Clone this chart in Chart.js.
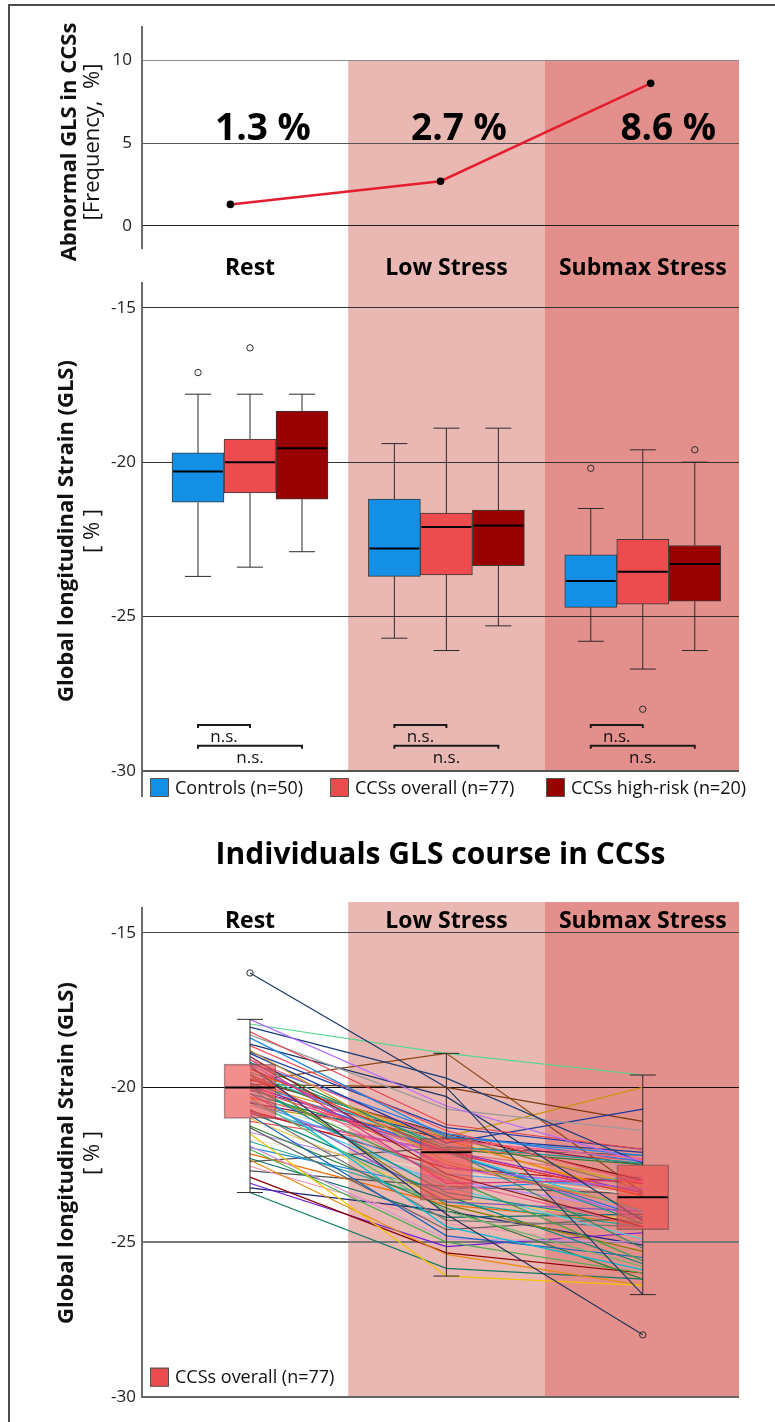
<!DOCTYPE html>
<html>
<head>
<meta charset="utf-8">
<script src="https://cdn.jsdelivr.net/npm/chart.js"></script>
<style>
  body { margin: 0; background: #fff; }
  #page { position: relative; width: 775px; height: 1422px; overflow: hidden; }
  #frame { position: absolute; left: 8px; top: 4px; width: 800px; height: 1460px; border: 2px solid #4d4d4d; }
  canvas { position: absolute; left: 0; }
</style>
</head>
<body>
<div id="page">
  <div id="frame"></div>
  <canvas id="freqChart" width="775" height="280" style="top:0"></canvas>
  <canvas id="boxChart" width="775" height="540" style="top:280px"></canvas>
  <canvas id="courseChart" width="775" height="602" style="top:820px"></canvas>
</div>
<script>
// ---- data ----
const phases = ['Rest', 'Low Stress', 'Submax Stress'];
const phaseX = [0, 1, 2];

// top panel: abnormal GLS frequency in CCSs
const abnormalFreq = [1.3, 2.7, 8.6];
const abnormalX = [-0.1, 0.97, 2.04];
const abnormalLabels = ['1.3 %', '2.7 %', '8.6 %'];
const abnormalLabelX = [0.066, 1.064, 2.13];

// box plots: one row per group, one column per phase
const groupLabels = ['Controls (n=50)', 'CCSs overall (n=77)', 'CCSs high-risk (n=20)'];
const groupColors = ['#1390E6', '#EC4C4E', '#990000'];
const boxMin = [[-23.7, -25.7, -25.8], [-23.4, -26.1, -26.7], [-22.9, -25.3, -26.1]];
const boxQ1 = [[-21.3, -23.7, -24.7], [-21.0, -23.65, -24.6], [-21.2, -23.35, -24.5]];
const boxMedian = [[-20.3, -22.8, -23.85], [-20.0, -22.1, -23.55], [-19.55, -22.05, -23.3]];
const boxQ3 = [[-19.7, -21.2, -23.0], [-19.25, -21.65, -22.5], [-18.35, -21.55, -22.7]];
const boxMax = [[-17.8, -19.4, -21.5], [-17.8, -18.9, -19.6], [-17.8, -18.9, -20.0]];
const boxOutliers = [[[-17.1], [], [-20.2]], [[-16.3], [], [-28.0]], [[], [], [-19.6]]];

// individual courses of the 77 CCSs (rest, low stress, submax stress)
const courseRest = [
  -16.3, -17.8, -17.95, -18.05, -18.2, -18.3, -18.4, -18.6, -18.65, -18.8,
  -18.85, -18.9, -19.0, -19.1, -19.1, -19.2, -19.2, -19.25, -19.3, -19.4,
  -19.4, -19.5, -19.5, -19.55, -19.6, -19.7, -19.7, -19.75, -19.8, -19.85,
  -19.9, -19.95, -19.95, -20.0, -20.0, -20.0, -19.9, -19.6, -20.05, -20.1,
  -20.2, -20.2, -20.3, -20.35, -20.35, -20.45, -20.5, -20.5, -20.6, -20.6,
  -20.7, -20.75, -20.8, -20.8, -20.85, -20.9, -21.0, -21.1, -21.25, -21.3,
  -21.45, -21.5, -21.7, -21.75, -21.9, -21.95, -22.0, -22.15, -22.3, -22.35,
  -22.4, -22.55, -22.7, -22.9, -23.1, -23.4, -23.25
];
const courseLow = [
  -20.0, -20.6, -18.9, -19.7, -21.2, -20.7, -21.6, -20.3, -21.4, -22.4,
  -21.3, -21.8, -22.8, -21.7, -23.1, -22.0, -21.5, -22.6, -24.1, -22.1,
  -21.9, -22.1, -21.7, -23.0, -22.0, -21.55, -22.5, -21.5, -18.9, -22.1,
  -20.0, -23.4, -22.05, -21.75, -22.9, -24.5, -21.6, -23.8, -22.1, -21.6,
  -22.05, -23.7, -22.1, -21.7, -24.0, -22.8, -21.65, -23.2, -22.0, -21.6,
  -24.3, -22.6, -22.1, -23.5, -22.12, -24.8, -23.6, -22.0, -23.9, -24.6,
  -23.0, -26.1, -22.7, -23.7, -24.9, -23.3, -25.0, -23.8, -24.2, -25.4,
  -21.95, -24.4, -23.2, -25.35, -25.15, -25.85, -24.0
];
const courseSubmax = [
  -26.7, -22.4, -19.6, -22.45, -22.0, -21.4, -22.2, -24.3, -23.1, -23.9,
  -22.0, -20.7, -24.5, -22.3, -23.0, -25.2, -22.4, -23.3, -28.0, -23.5,
  -22.45, -24.0, -23.55, -24.5, -22.5, -23.3, -23.9, -23.0, -23.4, -24.2,
  -21.1, -24.4, -23.4, -22.3, -25.6, -25.9, -23.2, -25.3, -23.5, -22.1,
  -24.4, -24.0, -22.9, -23.5, -25.8, -23.3, -22.5, -24.9, -23.55, -20.0,
  -24.5, -23.1, -24.3, -25.7, -23.4, -25.5, -24.3, -22.35, -26.2, -24.2,
  -24.0, -26.4, -23.5, -24.5, -25.0, -22.9, -26.0, -24.4, -24.1, -26.4,
  -22.2, -25.2, -23.45, -26.0, -24.7, -26.2, -25.1
];
const courseColors = [
  '#1B3A6B', '#B36BFF', '#55D68C', '#163D7A', '#E8404A', '#9A9A9A', '#1E88E5', '#1B3A6B', '#F0505A', '#C9A227',
  '#1F3FA8', '#1A3C9E', '#8B1A1A', '#FF5C8A', '#D63384', '#2E8B57', '#2C7BE5', '#A25CF0', '#24345C', '#E53935',
  '#17A2A2', '#26C6DA', '#E8890C', '#F06292', '#2E7D32', '#8D6E63', '#EF5350', '#7B1010', '#8B4513', '#1976D2',
  '#7A3B0C', '#0F8F8F', '#9C27B0', '#FF7F7F', '#43A047', '#00BCD4', '#D4A017', '#808000', '#FF4081', '#283593',
  '#009688', '#7E57C2', '#E57373', '#FB8C00', '#66BB6A', '#42A5F5', '#880E4F', '#4DD0E1', '#E6DCC3', '#C8960C',
  '#757575', '#B71C1C', '#BA68C8', '#00897B', '#EC407A', '#1565C0', '#F2C94C', '#EF5350', '#2E7D32', '#616161',
  '#B388FF', '#F2C500', '#E8E0C8', '#26A69A', '#CE93D8', '#1E88E5', '#4CAF50', '#EF6C00', '#0E6E6E', '#E8890C',
  '#555555', '#F48FB1', '#505050', '#8B0000', '#6A1BD6', '#117A65', '#1A237E'
];

// ---- shared styling ----
const FONT = "'Open Sans', sans-serif";
const bandEdges = [-0.55, 0.5, 1.5, 2.49];
const bandColors = [null, '#EAB8B2', '#E38F8C'];
const nsLevels = [-28.51, -29.18];

Chart.defaults.font.family = FONT;
Chart.defaults.color = '#222';

function drawBands(chart, top, bottom) {
  const { ctx, scales: { x } } = chart;
  ctx.save();
  bandColors.forEach((c, i) => {
    if (!c) return;
    const x0 = x.getPixelForValue(bandEdges[i]);
    const x1 = x.getPixelForValue(bandEdges[i + 1]);
    ctx.fillStyle = c;
    ctx.fillRect(x0, top, x1 - x0, bottom - top);
  });
  ctx.restore();
}

function drawAxisTitle(ctx, bold, plain, boldX, centerY) {
  ctx.save();
  ctx.fillStyle = '#111';
  ctx.textAlign = 'center';
  ctx.textBaseline = 'alphabetic';
  ctx.translate(boldX, centerY);
  ctx.rotate(-Math.PI / 2);
  ctx.font = `bold 22px ${FONT}`;
  ctx.fillText(bold, 0, 0);
  ctx.restore();
  ctx.save();
  ctx.fillStyle = '#111';
  ctx.textAlign = 'center';
  ctx.translate(99, centerY);
  ctx.rotate(-Math.PI / 2);
  ctx.font = `22px ${FONT}`;
  ctx.fillText(plain, 0, 0);
  ctx.restore();
}

function drawPhaseLabels(chart, baseline) {
  const { ctx, scales: { x } } = chart;
  ctx.save();
  ctx.fillStyle = '#000';
  ctx.textAlign = 'center';
  ctx.textBaseline = 'alphabetic';
  ctx.font = `bold 23px ${FONT}`;
  phases.forEach((p, i) => ctx.fillText(p, x.getPixelForValue(phaseX[i]), baseline));
  ctx.restore();
}

function drawLegendItem(ctx, x, yMid, color, text) {
  ctx.save();
  ctx.fillStyle = color;
  ctx.fillRect(x, yMid - 9.5, 19, 19);
  ctx.strokeStyle = '#555';
  ctx.lineWidth = 1;
  ctx.strokeRect(x + 0.5, yMid - 9, 18, 18);
  ctx.fillStyle = '#111';
  ctx.font = `18px ${FONT}`;
  ctx.textAlign = 'left';
  ctx.textBaseline = 'middle';
  ctx.fillText(text, x + 25, yMid + 1);
  ctx.restore();
}

// whiskers, caps, median and outliers around a floating bar (the box)
function drawWhiskers(ctx, y, bar, g, p) {
  const cx = bar.x, half = bar.width / 2, cap = bar.width / 4;
  const py = v => y.getPixelForValue(v);
  ctx.save();
  ctx.strokeStyle = '#2b2b2b';
  ctx.lineWidth = 1;
  ctx.beginPath();
  ctx.moveTo(cx, py(boxQ3[g][p])); ctx.lineTo(cx, py(boxMax[g][p]));
  ctx.moveTo(cx - cap, py(boxMax[g][p])); ctx.lineTo(cx + cap, py(boxMax[g][p]));
  ctx.moveTo(cx, py(boxQ1[g][p])); ctx.lineTo(cx, py(boxMin[g][p]));
  ctx.moveTo(cx - cap, py(boxMin[g][p])); ctx.lineTo(cx + cap, py(boxMin[g][p]));
  ctx.stroke();
  boxOutliers[g][p].forEach(v => {
    ctx.beginPath();
    ctx.arc(cx, py(v), 3.2, 0, Math.PI * 2);
    ctx.stroke();
  });
  ctx.strokeStyle = '#000';
  ctx.lineWidth = 2;
  ctx.beginPath();
  ctx.moveTo(cx - half + 1, py(boxMedian[g][p]));
  ctx.lineTo(cx + half - 1, py(boxMedian[g][p]));
  ctx.stroke();
  ctx.restore();
}

function fixAxisWidth(scale) {
  scale.width = 142;
  scale.paddingTop = 0;
  scale.paddingBottom = 0;
}

function valueAxis(min, max, tickValues, gridStyle, pad) {
  return {
    min, max,
    afterBuildTicks: s => { s.ticks = tickValues.map(v => ({ value: v })); },
    afterFit: fixAxisWidth,
    ticks: { padding: pad, color: '#222', font: { size: 17 } },
    grid: {
      drawTicks: false,
      color: c => (c.tick ? gridStyle[c.tick.value][0] : '#444'),
      lineWidth: c => (c.tick ? gridStyle[c.tick.value][1] : 1)
    },
    border: { display: true, color: '#6b6b6b', width: 2 }
  };
}

const phaseAxis = { type: 'linear', min: bandEdges[0], max: bandEdges[3], display: false, offset: false };
const baseOptions = {
  responsive: false,
  animation: false,
  devicePixelRatio: 1,
  events: []
};

// ---- top panel ----
const freqDecor = {
  id: 'freqDecor',
  beforeDraw(chart) {
    drawBands(chart, chart.scales.y.getPixelForValue(10), chart.height);
  },
  afterDraw(chart) {
    const { ctx, scales: { x, y } } = chart;
    ctx.save();
    ctx.fillStyle = '#000';
    ctx.textAlign = 'center';
    ctx.textBaseline = 'alphabetic';
    ctx.font = `bold 37px ${FONT}`;
    abnormalLabels.forEach((t, i) => ctx.fillText(t, x.getPixelForValue(abnormalLabelX[i]), y.getPixelForValue(5.2)));
    ctx.restore();
    drawPhaseLabels(chart, 275);
    drawAxisTitle(ctx, 'Abnormal GLS in CCSs', '[Frequency,  %]', 76, 142);
  }
};

// ---- box plot panel ----
const boxDecor = {
  id: 'boxDecor',
  beforeDraw(chart) {
    drawBands(chart, 0, chart.chartArea.bottom);
  },
  afterDatasetsDraw(chart) {
    const { ctx, scales: { y } } = chart;
    chart.data.datasets.forEach((ds, g) => {
      chart.getDatasetMeta(g).data.forEach((bar, p) => drawWhiskers(ctx, y, bar, g, p));
    });
    // n.s. brackets: controls vs overall, controls vs high-risk
    const metas = [0, 1, 2].map(g => chart.getDatasetMeta(g).data);
    ctx.save();
    ctx.strokeStyle = '#1a1a1a';
    ctx.fillStyle = '#111';
    ctx.lineWidth = 2;
    ctx.font = `17px ${FONT}`;
    ctx.textAlign = 'center';
    phaseX.forEach((px, p) => {
      const x0 = metas[0][p].x;
      [1, 2].forEach((g, k) => {
        const x1 = metas[g][p].x;
        const yy = y.getPixelForValue(nsLevels[k]);
        ctx.beginPath();
        ctx.moveTo(x0, yy + 3); ctx.lineTo(x0, yy); ctx.lineTo(x1, yy); ctx.lineTo(x1, yy + 3);
        ctx.stroke();
        const tx = k === 0 ? (x0 + x1) / 2 : metas[1][p].x;
        ctx.fillText('n.s.', tx, yy + 17);
      });
    });
    ctx.restore();
  },
  afterDraw(chart) {
    const { ctx, chartArea } = chart;
    ctx.save();
    ctx.strokeStyle = '#6b6b6b';
    ctx.lineWidth = 2;
    ctx.beginPath();
    ctx.moveTo(chartArea.left, chartArea.bottom);
    ctx.lineTo(chartArea.left, chartArea.bottom + 26);
    ctx.stroke();
    ctx.restore();
    const legendX = [150, 330, 546];
    groupLabels.forEach((t, g) => drawLegendItem(ctx, legendX[g], chartArea.bottom + 16.5, groupColors[g], t));
    drawAxisTitle(ctx, 'Global longitudinal Strain (GLS)', '[ % ]', 73, 251);
  }
};

// ---- individual courses panel ----
const courseDecor = {
  id: 'courseDecor',
  beforeDraw(chart) {
    drawBands(chart, chart.chartArea.top - 6, chart.chartArea.bottom);
  },
  afterDatasetsDraw(chart) {
    const { ctx, scales: { y } } = chart;
    chart.getDatasetMeta(0).data.forEach((bar, p) => drawWhiskers(ctx, y, bar, 1, p));
  },
  afterDraw(chart) {
    const { ctx, chartArea } = chart;
    drawPhaseLabels(chart, chartArea.top + 20);
    drawLegendItem(ctx, 150, chartArea.bottom - 19.5, groupColors[1], groupLabels[1]);
    drawAxisTitle(ctx, 'Global longitudinal Strain (GLS)', '[ % ]', 73, 333);
  }
};

function buildCharts() {
  new Chart(document.getElementById('freqChart'), {
    type: 'line',
    data: {
      datasets: [{
        data: abnormalX.map((x, i) => ({ x, y: abnormalFreq[i] })),
        borderColor: '#E41E2E',
        borderWidth: 2.5,
        pointRadius: 3.8,
        pointBackgroundColor: '#000',
        pointBorderWidth: 0,
        tension: 0
      }]
    },
    options: {
      ...baseOptions,
      layout: { padding: { top: 27, right: 36, bottom: 32, left: 0 } },
      plugins: { legend: { display: false }, tooltip: { enabled: false } },
      scales: {
        x: phaseAxis,
        y: valueAxis(-1.33, 12, [0, 5, 10], { 0: ['#222', 1], 5: ['#555', 1], 10: ['#8c8c8c', 1] }, 10)
      }
    },
    plugins: [freqDecor]
  });

  new Chart(document.getElementById('boxChart'), {
    type: 'bar',
    data: {
      datasets: groupLabels.map((label, g) => ({
        label,
        data: phaseX.map((x, p) => ({ x, y: [boxQ1[g][p], boxQ3[g][p]] })),
        backgroundColor: groupColors[g],
        borderColor: '#3b3b3b',
        borderWidth: 1,
        borderSkipped: false,
        barThickness: 52
      }))
    },
    options: {
      ...baseOptions,
      layout: { padding: { top: 3, right: 36, bottom: 49, left: 0 } },
      plugins: { legend: { display: false }, tooltip: { enabled: false } },
      scales: {
        x: phaseAxis,
        y: valueAxis(-30, -14.2, [-30, -25, -20, -15],
          { '-15': ['#333', 1], '-20': ['#333', 1], '-25': ['#333', 1], '-30': ['#555', 2] }, 6)
      }
    },
    plugins: [boxDecor]
  });

  const courseLines = courseRest.map((r, k) => ({
    type: 'line',
    data: [{ x: phaseX[0], y: r }, { x: phaseX[1], y: courseLow[k] }, { x: phaseX[2], y: courseSubmax[k] }],
    borderColor: courseColors[k],
    borderWidth: 1.2,
    pointRadius: 0,
    tension: 0,
    order: 1
  }));

  new Chart(document.getElementById('courseChart'), {
    type: 'bar',
    data: {
      datasets: [{
        type: 'bar',
        label: groupLabels[1],
        data: phaseX.map((x, p) => ({ x, y: [boxQ1[1][p], boxQ3[1][p]] })),
        backgroundColor: 'rgba(236, 76, 78, 0.63)',
        borderColor: 'rgba(80, 80, 80, 0.6)',
        borderWidth: 1,
        borderSkipped: false,
        barThickness: 52,
        order: 0
      }, ...courseLines]
    },
    options: {
      ...baseOptions,
      layout: { padding: { top: 0, right: 36, bottom: 25.3, left: 0 } },
      plugins: {
        legend: { display: false },
        tooltip: { enabled: false },
        title: {
          display: true,
          fullSize: false,
          text: 'Individuals GLS course in CCSs',
          color: '#000',
          font: { size: 30, weight: 'bold' },
          padding: { top: 17, bottom: 35 }
        }
      },
      scales: {
        x: phaseAxis,
        y: valueAxis(-30, -14.2, [-30, -25, -20, -15],
          { '-15': ['#444', 1], '-20': ['#111', 1], '-25': ['#777', 2], '-30': ['#666', 2] }, 6)
      }
    },
    plugins: [courseDecor]
  });
}

Promise.all([
  document.fonts.load(`bold 20px ${FONT}`),
  document.fonts.load(`20px ${FONT}`)
]).then(buildCharts, buildCharts);
</script>
</body>
</html>
